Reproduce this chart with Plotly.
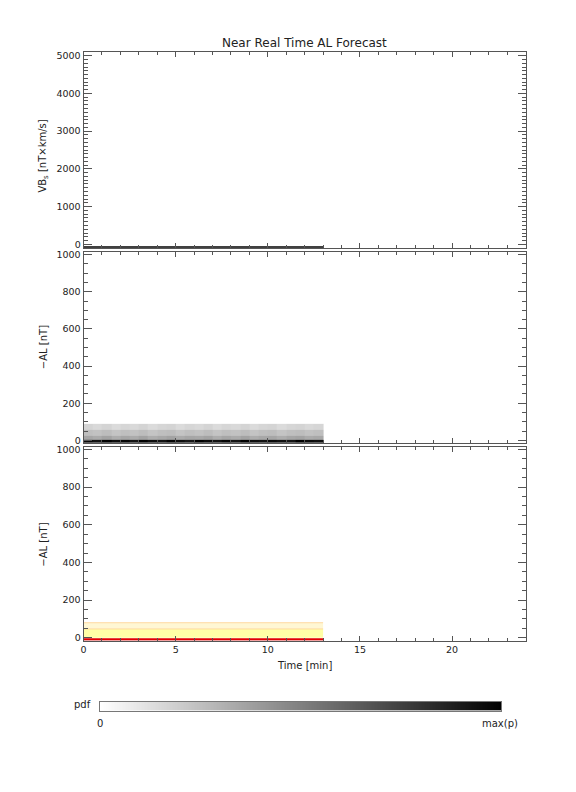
import plotly.graph_objects as go

# ---------------- data ----------------
time_min = [0, 1, 2, 3, 4, 5, 6, 7, 8, 9, 10, 11, 12, 13]
vbs = [-70, -70, -70, -70, -70, -70, -70, -70, -70, -70, -70, -70, -70, -70]
al_median = [-8, -8, -8, -8, -8, -8, -8, -8, -8, -8, -8, -8, -8, -8]
al_q_mid = [47, 47, 47, 47, 47, 47, 47, 47, 47, 47, 47, 47, 47, 47]
al_q_high = [80, 80, 80, 80, 80, 80, 80, 80, 80, 80, 80, 80, 80, 80]

pdf_time_edges = [0, 0.5, 1, 1.5, 2, 2.5, 3, 3.5, 4, 4.5, 5, 5.5, 6, 6.5,
                  7, 7.5, 8, 8.5, 9, 9.5, 10, 10.5, 11, 11.5, 12, 12.5, 13]
pdf_al_edges = [-12, 3, 25, 57, 89]
pdf_row0 = [0.97, 0.93, 1.0, 0.95, 0.98, 0.92, 1.0, 0.95, 0.93, 0.99, 0.95, 0.91, 1.0,
            0.96, 0.93, 0.98, 0.92, 1.0, 0.95, 0.93, 0.97, 0.94, 0.92, 1.0, 0.96, 0.94]
pdf_row1 = [0.35, 0.33, 0.36, 0.32, 0.35, 0.33, 0.36, 0.32, 0.34, 0.36, 0.33, 0.35, 0.34,
            0.36, 0.32, 0.35, 0.33, 0.36, 0.32, 0.34, 0.35, 0.32, 0.35, 0.36, 0.33, 0.34]
pdf_row2 = [0.25, 0.24, 0.26, 0.23, 0.25, 0.24, 0.26, 0.23, 0.25, 0.26, 0.23, 0.25, 0.24,
            0.26, 0.23, 0.25, 0.24, 0.26, 0.23, 0.25, 0.26, 0.23, 0.25, 0.26, 0.24, 0.25]
pdf_row3 = [0.17, 0.15, 0.17, 0.14, 0.16, 0.15, 0.17, 0.14, 0.16, 0.17, 0.14, 0.16, 0.15,
            0.17, 0.14, 0.16, 0.15, 0.17, 0.14, 0.16, 0.17, 0.14, 0.16, 0.17, 0.15, 0.16]

colorbar_levels = [0, 0.1, 0.2, 0.3, 0.4, 0.5, 0.6, 0.7, 0.8, 0.9, 1.0]

# ---------------- figure ----------------
W, H = 576, 792
FONT = "DejaVu Sans"
FRAME = "#555555"
TXT = "#222222"
TICKSIZE = 9.5
gray_scale = [[0, "#ffffff"], [1, "#000000"]]

def px_x(p):
    return p / W

def px_y(p):
    return 1 - p / H

fig = go.Figure()

# panel 1: VBs
fig.add_trace(go.Scatter(x=time_min, y=vbs, mode="lines",
                         line=dict(color="black", width=1.6),
                         xaxis="x", yaxis="y", showlegend=False))

# panel 2: pdf heatmap
fig.add_trace(go.Heatmap(x=pdf_time_edges, y=pdf_al_edges,
                         z=[pdf_row0, pdf_row1, pdf_row2, pdf_row3],
                         colorscale=gray_scale, zmin=0, zmax=1, showscale=False,
                         xaxis="x2", yaxis="y2"))

# panel 3: quantile bands
fig.add_trace(go.Scatter(x=time_min, y=al_q_mid, mode="lines", fill="tozeroy",
                         fillcolor="#FFFFA6", line=dict(color="#FFD9A0", width=1),
                         xaxis="x3", yaxis="y3", showlegend=False))
fig.add_trace(go.Scatter(x=time_min, y=al_q_high, mode="lines", fill="tonexty",
                         fillcolor="#FFF7D4", line=dict(color="#FFD9A0", width=1),
                         xaxis="x3", yaxis="y3", showlegend=False))
fig.add_trace(go.Scatter(x=time_min, y=al_median, mode="lines",
                         line=dict(color="#E00000", width=2.2),
                         xaxis="x3", yaxis="y3", showlegend=False))

# colour bar
fig.add_trace(go.Heatmap(x=colorbar_levels, y=[0, 1], z=[colorbar_levels, colorbar_levels],
                         colorscale=gray_scale, zmin=0, zmax=1, showscale=False,
                         zsmooth="best", xaxis="x4", yaxis="y4"))

xdom = [px_x(81), px_x(525.5)]
doms = [[px_y(247), px_y(49.3)], [px_y(443), px_y(250.7)], [px_y(642.5), px_y(447)]]

def xax(anchor, show_labels):
    return dict(domain=xdom, anchor=anchor, range=[0, 24], tickvals=[0, 5, 10, 15, 20],
                ticks="inside", ticklen=5, tickcolor=FRAME, showline=True, linecolor=FRAME,
                linewidth=1, mirror="allticks", showgrid=False, zeroline=False,
                showticklabels=show_labels,
                tickfont=dict(family=FONT, size=TICKSIZE, color=TXT),
                minor=dict(dtick=1, ticklen=3, ticks="inside", tickcolor=FRAME, showgrid=False))

def yax(anchor, dom, rng, dtick, minor_dtick):
    return dict(domain=dom, anchor=anchor, range=rng, dtick=dtick, tick0=0,
                ticks="inside", ticklen=8, tickcolor=FRAME, showline=True, linecolor=FRAME,
                linewidth=1, mirror="allticks", showgrid=False, zeroline=False,
                tickfont=dict(family=FONT, size=TICKSIZE, color=TXT),
                minor=dict(dtick=minor_dtick, tick0=0, ticklen=4, ticks="inside",
                           tickcolor=FRAME, showgrid=False))

fig.update_layout(
    width=W, height=H,
    margin=dict(l=0, r=0, t=0, b=0),
    paper_bgcolor="white", plot_bgcolor="white",
    font=dict(family=FONT, size=10, color=TXT),
    showlegend=False,
    xaxis=xax("y", False),
    xaxis2=xax("y2", False),
    xaxis3=xax("y3", True),
    yaxis=yax("x", doms[0], [-100, 5100], 1000, 100),
    yaxis2=yax("x2", doms[1], [-12, 1015], 200, 50),
    yaxis3=yax("x3", doms[2], [-15, 1015], 200, 50),
    xaxis4=dict(domain=[px_x(97.7), px_x(501)], anchor="y4", range=[0, 1],
                showticklabels=False, ticks="", showline=True, linecolor="#777777",
                mirror=True, showgrid=False, zeroline=False),
    yaxis4=dict(domain=[px_y(713), px_y(704)], anchor="x4", range=[0, 1],
                showticklabels=False, ticks="", showline=True, linecolor="#777777",
                mirror=True, showgrid=False, zeroline=False),
)

ann = [
    dict(text="Near Real Time AL Forecast", x=px_x(303), y=px_y(40), size=12, angle=0),
    dict(text="VB<sub>s</sub> [nT×km/s]", x=px_x(41), y=px_y(154), size=10, angle=-90),
    dict(text="−AL [nT]", x=px_x(41), y=px_y(347), size=10, angle=-90),
    dict(text="−AL [nT]", x=px_x(41), y=px_y(546), size=10, angle=-90),
    dict(text="Time [min]", x=px_x(303), y=px_y(668), size=10, angle=0),
    dict(text="pdf", x=px_x(80), y=px_y(707), size=10, angle=0),
    dict(text="0", x=px_x(97.7), y=px_y(726), size=10, angle=0),
    dict(text="max(p)", x=px_x(500), y=px_y(726), size=10, angle=0),
]
fig.update_layout(annotations=[
    dict(text=a["text"], x=a["x"], y=a["y"], xref="paper", yref="paper",
         xanchor="center", yanchor="middle", showarrow=False, textangle=a["angle"],
         font=dict(family=FONT, size=a["size"], color=TXT))
    for a in ann
])

fig.write_html("out.html", config={"displayModeBar": False},
               post_script="document.body.style.margin='0';document.body.style.overflow='hidden';")
